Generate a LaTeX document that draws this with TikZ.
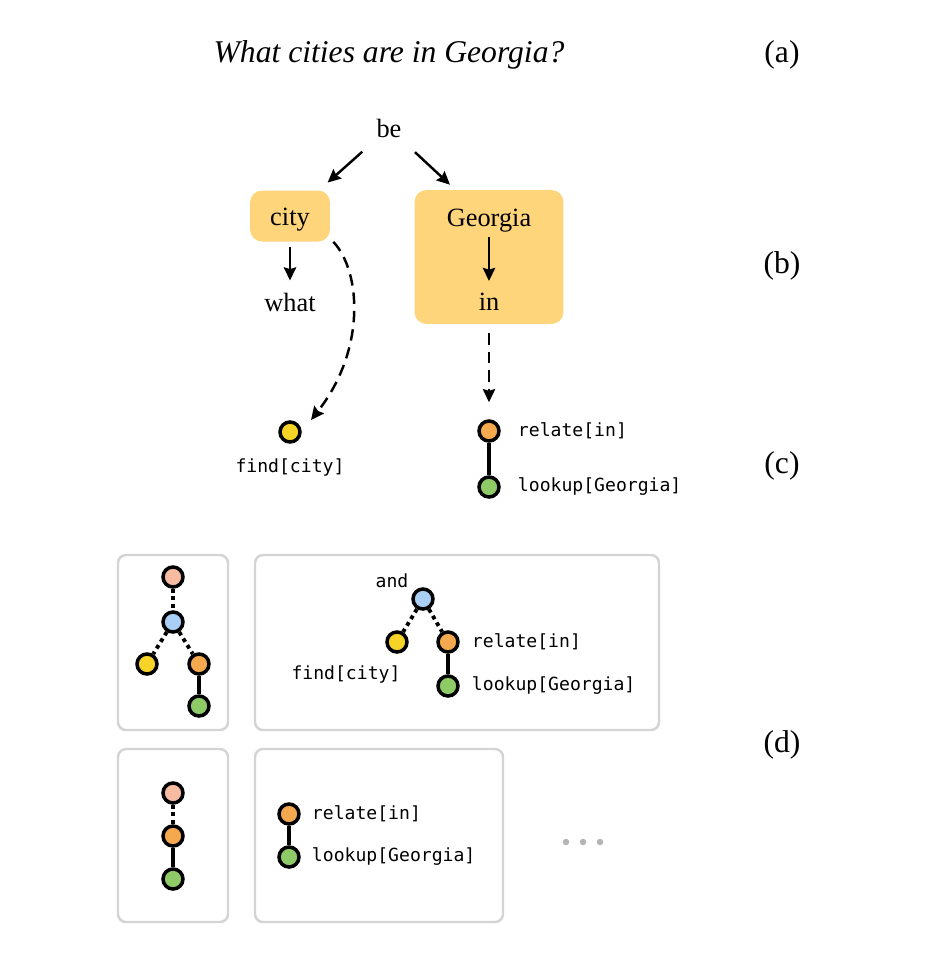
\documentclass[tikz,border=0pt]{standalone}
\usepackage{fontspec}
\setmainfont{Liberation Serif}
\setmonofont{DejaVu Sans Mono}
\usetikzlibrary{positioning,arrows.meta,calc}

\definecolor{boxfill}{HTML}{FFD57C}
\definecolor{findcol}{HTML}{F5D327}
\definecolor{relcol}{HTML}{F5A94F}
\definecolor{lookcol}{HTML}{8ECB67}
\definecolor{andcol}{HTML}{A9CFF6}
\definecolor{rootcol}{HTML}{F6BBA1}
\definecolor{panelgray}{HTML}{D4D4D4}
\definecolor{dotgray}{HTML}{B4B4B4}

\begin{document}
\begin{tikzpicture}[
    x=0.02cm,y=-0.02cm,
    word/.style={font=\fontsize{15}{18}\selectfont},
    tag/.style={font=\fontsize{18}{21}\selectfont},
    mono/.style={font=\ttfamily\fontsize{10.3}{12}\selectfont},
    hbox/.style={rectangle,rounded corners=0.24cm,fill=boxfill},
    arrow/.style={-{Stealth[length=7.5pt,width=7pt,inset=1pt]},line width=1.4pt},
    mod/.style={circle,draw=black,line width=2pt,minimum size=0.4cm,inner sep=0pt},
    panel/.style={rounded corners=0.16cm,draw=panelgray,line width=1.4pt},
    link/.style={line width=2.2pt},
    dotlink/.style={line width=2.2pt,dash pattern=on 2.2pt off 2.2pt}
]
\useasboundingbox (0,0) rectangle (927,968);

% (a) question
\node[tag,font=\fontsize{18}{21}\selectfont\itshape] (question) at (389,55) {What cities are in Georgia?};
\node[tag] (taga) at (782,55) {(a)};

% (b) dependency parse
\node[word] (be) at (389,128) {be};
\node[hbox,minimum width=1.6cm,minimum height=1.02cm] (city) at (290,216) {};
\node[word] (cityw) at (290,220) {city};
\node[word] (what) at (290,302) {what};
\node[hbox,minimum width=2.98cm,minimum height=2.68cm] (gbox) at (489,257) {};
\node[word] (georgia) at (489,221) {Georgia};
\node[word] (in) at (489,302) {in};
\node[tag] (tagb) at (782,266) {(b)};

\draw[arrow] ($(be)!0.27!(city)$) -- ($(be)!0.62!(city)$);
\draw[arrow] ($(be)!0.26!(georgia)$) -- ($(be)!0.61!(georgia)$);
\draw[arrow,shorten >=0.12cm] ([yshift=-0.1cm]city.south) -- (what.north);
\draw[arrow,shorten >=0.12cm] ([yshift=0.04cm]georgia.south) -- (in.north);

% (c) layouts
\node[mod,fill=findcol] (find) at (290,432) {};
\node[mono,below=0.18cm of find] (findL) {find[city]};
\node[mod,fill=relcol] (rel) at (489,431) {};
\node[mod,fill=lookcol] (look) at (489,487) {};
\node[mono,right=0.22cm of rel] (relL) {relate[in]};
\node[mono,right=0.22cm of look] (lookL) {lookup[Georgia]};
\draw[link] (rel) -- (look);
\node[tag] (tagc) at (782,466) {(c)};

\draw[arrow,dash pattern=on 6.5pt off 4pt] ([shift={(3,0)}]city.south east)
    .. controls +(28,30) and +(55,-70) .. ([shift={(21,-12)}]find.center);
\draw[arrow,dash pattern=on 6.5pt off 4pt] ([yshift=-0.18cm]gbox.south) -- ([yshift=0.34cm]rel.north);

% (d) candidate networks
\draw[panel] (118,555) rectangle (228,730);
\draw[panel] (255,555) rectangle (659,730);
\draw[panel] (118,749) rectangle (228,922);
\draw[panel] (255,749) rectangle (503,922);

\node[mod,fill=rootcol] (root1) at (173,577) {};
\node[mod,fill=andcol] (and1) at (173,622) {};
\node[mod,fill=findcol] (find1) at (147,664) {};
\node[mod,fill=relcol] (rel1) at (199,664) {};
\node[mod,fill=lookcol] (look1) at (199,706) {};
\draw[dotlink] (root1) -- (and1);
\draw[dotlink] (and1) -- (find1);
\draw[dotlink] (and1) -- (rel1);
\draw[link] (rel1) -- (look1);

\node[mod,fill=andcol] (and2) at (423,599) {};
\node[mod,fill=findcol] (find2) at (397,642) {};
\node[mod,fill=relcol] (rel2) at (448,642) {};
\node[mod,fill=lookcol] (look2) at (448,686) {};
\node[mono] (and2L) at (392,581) {and};
\node[mono] (find2L) at (346,674) {find[city]};
\node[mono,right=0.12cm of rel2] (rel2L) {relate[in]};
\node[mono,right=0.12cm of look2] (look2L) {lookup[Georgia]};
\draw[dotlink] (and2) -- (find2);
\draw[dotlink] (and2) -- (rel2);
\draw[link] (rel2) -- (look2);

\node[mod,fill=rootcol] (root3) at (173,793) {};
\node[mod,fill=relcol] (rel3) at (173,836) {};
\node[mod,fill=lookcol] (look3) at (173,879) {};
\draw[dotlink] (root3) -- (rel3);
\draw[link] (rel3) -- (look3);

\node[mod,fill=relcol] (rel4) at (289,814) {};
\node[mod,fill=lookcol] (look4) at (289,857) {};
\node[mono,right=0.1cm of rel4] (rel4L) {relate[in]};
\node[mono,right=0.1cm of look4] (look4L) {lookup[Georgia]};
\draw[link] (rel4) -- (look4);

\foreach \i/\x in {1/566,2/583,3/600}
  \node[circle,fill=dotgray,inner sep=0pt,minimum size=0.13cm] (more\i) at (\x,842) {};

\node[tag] (tagd) at (782,745) {(d)};

\end{tikzpicture}
\end{document}
